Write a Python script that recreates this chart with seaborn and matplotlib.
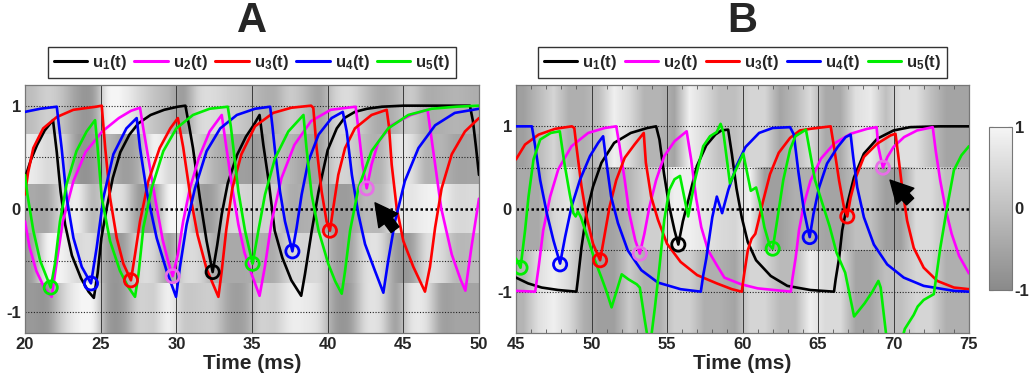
import numpy as np
import matplotlib
matplotlib.use('Agg')
import matplotlib.pyplot as plt
from matplotlib.colors import LinearSegmentedColormap, Normalize
from matplotlib.cm import ScalarMappable
from matplotlib.ticker import FixedLocator
import seaborn as sns

# ---------------- data ----------------
colors = ['black', '#ff00ff', '#ff0000', '#0000ff', '#00ee00']
labels = ['u$_1$(t)', 'u$_2$(t)', 'u$_3$(t)', 'u$_4$(t)', 'u$_5$(t)']

# panel A
A_u1_t = [20.0, 20.4, 20.8, 21.3, 21.85, 22.1, 22.35, 22.65, 23.1, 23.7, 24.2, 24.55, 24.8, 25.05, 25.4,
          25.8, 26.3, 26.9, 27.5, 28.3, 29.2, 30.1, 30.6, 30.85, 31.1, 31.55, 32.0, 32.4, 32.7, 33.0, 33.4,
          34.0, 34.6, 35.1, 35.5, 35.75, 36.1, 36.5, 37.0, 37.6, 38.25, 38.5, 38.95, 39.4, 40.0, 40.6, 41.1,
          41.8, 42.6, 43.6, 45.0, 47.0, 49.4, 49.6, 49.8, 50.0]
A_u1 = [0.30, 0.48, 0.62, 0.76, 0.86, 0.55, 0.17, -0.15, -0.45, -0.67, -0.80, -0.86, -0.62, -0.28, 0.01,
        0.30, 0.55, 0.72, 0.83, 0.91, 0.96, 0.99, 1.0, 0.80, 0.59, 0.11, -0.31, -0.61, -0.35, -0.05, 0.25,
        0.52, 0.70, 0.81, 0.91, 0.62, 0.27, -0.21, -0.47, -0.69, -0.84, -0.63, -0.21, 0.17, 0.57, 0.78, 0.88,
        0.94, 0.97, 0.99, 1.0, 1.0, 1.0, 0.85, 0.60, 0.33]

A_u2_t = [20.0, 20.3, 20.75, 21.3, 21.76, 22.05, 22.5, 23.2, 24.0, 25.1, 26.2, 27.0, 27.6, 27.85, 28.2,
          28.6, 29.1, 29.45, 29.76, 30.1, 30.45, 30.9, 31.5, 32.2, 33.0, 33.3, 33.7, 34.1, 34.5, 34.95, 35.5,
          35.85, 36.3, 36.95, 37.8, 38.9, 40.2, 41.85, 42.05, 42.3, 42.58, 42.9, 43.35, 44.2, 45.5, 46.6,
          46.95, 47.5, 48.2, 48.8, 49.1, 49.5, 50.0]
A_u2 = [-0.12, -0.37, -0.60, -0.77, -0.85, -0.56, -0.12, 0.27, 0.55, 0.75, 0.88, 0.95, 0.98, 0.75, 0.45,
        0.10, -0.30, -0.50, -0.65, -0.44, -0.12, 0.20, 0.50, 0.75, 0.91, 0.60, 0.20, -0.15, -0.42, -0.62, -0.84,
        -0.56, -0.12, 0.30, 0.62, 0.85, 0.96, 0.99, 0.75, 0.43, 0.20, 0.43, 0.65, 0.81, 0.91, 0.96,
        0.59, 0.01, -0.44, -0.69, -0.79, -0.37, 0.10]

A_u3_t = [20.0, 20.2, 20.55, 21.2, 22.1, 23.2, 24.7, 25.07, 25.3, 25.62, 26.06, 26.5, 27.0, 27.27, 27.6,
          28.15, 28.9, 29.6, 30.1, 30.45, 30.9, 31.4, 32.0, 32.78, 33.0, 33.3, 33.7, 34.3, 35.2, 36.4, 37.6,
          38.9, 39.05, 39.27, 39.6, 39.93, 40.15, 40.37, 40.7, 41.15, 41.8, 42.9, 43.9, 44.05, 44.23, 44.56,
          45.0, 45.66, 46.43, 46.76, 47.1, 47.53, 48.2, 49.07, 50.0]
A_u3 = [0.14, 0.35, 0.59, 0.78, 0.89, 0.96, 0.99, 1.0, 0.59, 0.11, -0.28, -0.53, -0.69, -0.44, -0.12,
        0.27, 0.59, 0.78, 0.88, 0.60, 0.15, -0.25, -0.58, -0.85, -0.60, -0.20, 0.20, 0.53, 0.80, 0.93, 0.98,
        1.0, 0.98, 0.59, 0.17, -0.12, -0.21, 0.01, 0.33, 0.59, 0.78, 0.91, 0.96, 0.80, 0.43, 0.01,
        -0.31, -0.56, -0.80, -0.56, -0.18, 0.20, 0.53, 0.75, 0.88]

A_u4_t = [20.0, 21.0, 22.1, 22.25, 22.42, 22.75, 23.2, 23.75, 24.36, 24.74, 25.18, 25.84, 26.7, 27.38, 27.6,
          28.04, 28.7, 29.36, 29.98, 30.24, 30.68, 31.23, 32.0, 32.9, 34.0, 35.2, 36.2, 36.35, 36.5, 36.85,
          37.18, 37.67, 37.95, 38.28, 38.72, 39.4, 40.26, 41.0, 41.26, 41.6, 42.03, 42.47, 43.13, 43.68, 44.0,
          44.45, 45.1, 46.0, 47.1, 48.4, 50.0]
A_u4 = [0.94, 0.97, 0.99, 0.80, 0.59, 0.11, -0.28, -0.56, -0.72, -0.37, 0.11, 0.53, 0.78, 0.88, 0.59,
        0.17, -0.28, -0.60, -0.85, -0.56, -0.15, 0.20, 0.56, 0.78, 0.91, 0.97, 0.99, 0.80, 0.59, 0.17,
        -0.12, -0.41, -0.18, 0.14, 0.46, 0.72, 0.88, 0.94, 0.75, 0.33, -0.05, -0.34, -0.60, -0.81, -0.50,
        -0.12, 0.27, 0.59, 0.81, 0.93, 0.97]

A_u5_t = [20.0, 20.15, 20.55, 21.0, 21.43, 21.7, 21.98, 22.31, 22.75, 23.4, 24.07, 24.63, 24.8, 25.07, 25.62,
          26.28, 26.8, 27.27, 27.5, 27.82, 28.37, 29.14, 30.0, 31.1, 32.2, 33.4, 33.6, 33.77, 34.1, 34.54,
          35.04, 35.42, 35.86, 36.52, 37.4, 38.4, 38.6, 38.94, 39.4, 40.04, 40.5, 40.93, 41.15, 41.48, 42.03,
          42.9, 44.0, 45.33, 46.87, 48.5, 50.0]
A_u5 = [0.33, 0.15, -0.21, -0.50, -0.66, -0.76, -0.53, -0.12, 0.24, 0.56, 0.75, 0.86, 0.59, 0.11, -0.31,
        -0.60, -0.75, -0.85, -0.63, -0.18, 0.20, 0.56, 0.78, 0.91, 0.97, 0.99, 0.80, 0.59, 0.17, -0.21,
        -0.53, -0.21, 0.14, 0.49, 0.75, 0.91, 0.59, 0.14, -0.21, -0.53, -0.70, -0.82, -0.60, -0.21, 0.20,
        0.56, 0.78, 0.91, 0.97, 0.99, 1.0]

A_circ_t = [21.7, 24.36, 27.0, 29.76, 32.4, 35.04, 37.67, 40.15, 42.58]
A_circ_u = [-0.76, -0.72, -0.69, -0.65, -0.61, -0.53, -0.41, -0.21, 0.20]
A_circ_id = [4, 3, 2, 1, 0, 4, 3, 2, 1]

# panel B
B_u1_t = [45.0, 45.8, 46.7, 47.8, 49.0, 49.1, 49.34, 49.67, 50.1, 50.66, 51.5, 52.6, 53.7, 54.28, 54.5,
          54.8, 55.15, 55.5, 55.75, 56.05, 56.5, 56.98, 57.6, 58.2, 58.6, 59.05, 59.3, 59.6, 59.95, 60.35,
          60.9, 61.87, 62.97, 64.5, 66.06, 66.17, 66.4, 66.6, 66.94, 67.38, 68.04, 68.92, 70.0, 71.1, 73.0, 75.0]
B_u1 = [-0.83, -0.90, -0.95, -0.98, -1.0, -0.85, -0.46, -0.05, 0.27, 0.56, 0.80, 0.92, 0.98, 1.0, 0.84,
        0.43, 0.03, -0.26, -0.43, -0.15, 0.17, 0.52, 0.77, 0.90, 0.95, 0.96, 0.66, 0.25, -0.10, -0.40,
        -0.62, -0.81, -0.93, -0.98, -1.0, -0.85, -0.59, -0.26, 0.06, 0.38, 0.67, 0.85, 0.95, 0.99, 1.0, 1.0]

B_u2_t = [45.0, 46.27, 46.5, 46.8, 47.26, 47.8, 48.68, 49.78, 50.88, 51.64, 51.86, 52.2, 52.5, 52.9, 53.2,
          53.5, 53.84, 54.28, 54.82, 55.5, 56.3, 56.6, 56.93, 57.27, 57.72, 58.3, 58.8, 59.9, 61.0, 62.1,
          63.2, 63.3, 63.52, 63.74, 64.07, 64.5, 65.2, 66.06, 67.16, 68.26, 68.88, 69.0, 69.15, 69.3, 69.6,
          70.0, 70.7, 71.56, 72.6, 72.8, 73.1, 73.45, 73.85, 74.35, 75.0]
B_u2 = [-0.99, -1.0, -0.70, -0.26, 0.15, 0.48, 0.76, 0.92, 0.98, 1.0, 0.76, 0.35, -0.05, -0.38, -0.54,
        -0.30, 0.03, 0.35, 0.64, 0.82, 0.94, 0.60, 0.13, -0.22, -0.50, -0.68, -0.83, -0.91, -0.96, -0.98,
        -1.0, -0.85, -0.59, -0.26, 0.06, 0.34, 0.61, 0.79, 0.91, 0.97, 0.99, 0.75, 0.62, 0.50, 0.63,
        0.75, 0.87, 0.95, 0.99, 0.70, 0.34, 0.0, -0.30, -0.57, -0.78]

B_u3_t = [45.0, 45.6, 46.5, 47.6, 48.7, 48.86, 49.0, 49.34, 49.67, 50.1, 50.57, 50.88, 51.2, 51.64, 52.2,
          52.85, 53.46, 53.6, 53.95, 54.4, 55.0, 55.9, 57.0, 58.3, 59.3, 59.95, 60.1, 60.35, 60.6, 60.85,
          61.05, 61.37, 61.82, 62.4, 63.15, 63.8, 64.5, 65.4, 65.84, 66.06, 66.4, 66.72, 66.94, 67.16, 67.5,
          68.04, 68.92, 69.8, 70.13, 70.3, 70.57, 70.9, 71.34, 72.0, 72.9, 74.0, 75.0]
B_u3 = [0.60, 0.78, 0.90, 0.97, 1.0, 0.98, 0.76, 0.27, -0.09, -0.42, -0.62, -0.30, 0.03, 0.35, 0.62,
        0.78, 0.92, 0.56, 0.15, -0.13, -0.42, -0.64, -0.80, -0.90, -0.97, -1.0, -0.80, -0.50, -0.36, -0.30,
        -0.15, 0.10, 0.42, 0.68, 0.86, 0.95, 0.97, 0.99, 1.0, 0.75, 0.34, 0.02, -0.09, 0.14, 0.38,
        0.63, 0.79, 0.89, 0.91, 0.67, 0.26, -0.14, -0.47, -0.71, -0.87, -0.95, -0.97]

B_u4_t = [45.0, 46.05, 46.27, 46.6, 47.04, 47.48, 47.92, 48.25, 48.68, 49.23, 49.9, 50.44, 50.77, 50.99, 51.3,
          51.75, 52.4, 53.3, 54.4, 55.9, 57.24, 57.4, 57.6, 58.0, 58.3, 58.65, 59.06, 59.6, 60.2, 61.1,
          62.0, 63.15, 63.4, 63.7, 64.07, 64.3, 64.45, 64.7, 65.07, 65.6, 66.3, 66.83, 67.16, 67.33, 67.6,
          68.04, 68.7, 69.58, 70.68, 72.0, 74.0, 75.0]
B_u4 = [1.0, 1.0, 0.76, 0.35, -0.05, -0.38, -0.66, -0.34, 0.03, 0.35, 0.64, 0.80, 0.88, 0.56, 0.15,
        -0.17, -0.50, -0.74, -0.89, -0.97, -1.0, -0.80, -0.60, -0.10, 0.15, -0.05, 0.23, 0.52, 0.75, 0.92,
        0.98, 0.99, 0.90, 0.45, -0.02, -0.22, -0.34, -0.06, 0.26, 0.55, 0.75, 0.87, 0.90, 0.63, 0.26,
        -0.10, -0.43, -0.67, -0.83, -0.93, -0.99, -1.0]

B_u5_t = [45.0, 45.3, 45.6, 45.83, 46.16, 46.6, 47.3, 47.9, 48.2, 48.55, 48.8, 48.95, 49.1, 49.3, 49.8,
          50.22, 50.66, 51.0, 51.33, 52.0, 52.44, 52.99, 53.2, 53.54, 53.85, 54.2, 54.5, 54.82, 55.15, 55.5,
          55.86, 56.4, 56.85, 57.4, 57.85, 58.29, 58.55, 58.73, 59.17, 59.5, 60.05, 60.55, 60.9, 61.15, 61.45,
          61.8, 62.0, 62.26, 62.7, 63.15, 63.5, 64.2, 64.8, 65.77, 66.23, 66.8, 67.39, 68.09, 68.6, 69.0,
          69.15, 69.5, 70.1, 70.75, 71.34, 71.6, 72.0, 72.67, 73.1, 73.55, 74.0, 74.5, 75.0]
B_u5 = [-0.60, -0.71, -0.26, 0.15, 0.60, 0.84, 0.92, 0.94, 0.56, 0.19, -0.05, -0.09, -0.03, -0.10, -0.38,
        -0.62, -0.83, -1.0, -1.19, -0.79, -0.85, -0.91, -0.95, -1.36, -1.70, -1.19, -0.70, -0.13, 0.23, 0.36,
        0.40, -0.09, 0.35, 0.76, 0.88, 0.93, 1.03, 0.93, 0.31, 0.45, 0.67, 0.22, 0.26, 0.08, -0.22,
        -0.44, -0.48, -0.18, 0.35, 0.72, 0.88, 0.96, 0.35, -0.21, -0.53, -0.77, -1.30, -1.14, -1.0, -0.87,
        -0.95, -1.50, -1.90, -1.45, -1.28, -1.18, -1.10, -1.03, -0.47, 0.02, 0.47, 0.65, 0.76]

B_circ_t = [45.3, 47.92, 50.57, 53.2, 55.75, 62.0, 64.45, 66.94, 69.3]
B_circ_u = [-0.71, -0.67, -0.62, -0.54, -0.43, -0.48, -0.34, -0.09, 0.50]
B_circ_id = [4, 3, 2, 1, 0, 4, 3, 2, 1]

# gray background rows (top row first), one value per ms
A_bg = [
    [0.0, 0.3, 0.0, -0.6, -0.6, 0.9, 0.9, 0.5, 0.1, -0.2, -0.6, 0.4, 0.5, 0.3, 0.1,
     -0.2, -0.3, 0.2, -0.1, -0.5, 0.3, 0.5, 0.0, -0.4, -0.2, 0.2, -0.3, -0.3, -0.2, -0.3],
    [0.8, 0.5, 0.4, -0.7, -0.7, -0.2, -0.6, -0.3, 0.9, 0.5, 0.4, 0.3, -0.2, -0.5, -0.6,
     -0.6, -0.1, -0.2, -0.5, -0.5, 0.3, 0.3, -0.1, -0.2, 0.6, 0.6, -0.2, -0.2, -0.5, -0.5],
    [-0.4, -0.4, 0.5, 0.8, -0.1, 0.5, 0.5, -0.6, -0.6, 0.9, 0.9, -0.5, -0.5, 0.4, 0.4,
     0.3, 0.3, -0.3, -0.3, -0.3, -0.6, -0.6, -0.1, -0.1, 0.7, 0.7, 0.9, 0.9, 0.5, 0.5],
    [-0.5, 0.9, 0.9, 0.5, 0.5, -0.6, -0.6, 0.4, 0.4, -0.5, 0.4, 0.4, -0.3, -0.4, -0.4,
     -0.3, -0.3, 0.4, 0.4, 0.4, -0.5, -0.5, 0.5, 0.5, -0.6, -0.6, 0.5, 0.5, -0.1, -0.1],
    [-0.7, -0.7, 0.3, 0.9, 0.9, -0.6, -0.6, 0.3, 0.3, 0.9, 0.2, 0.2, 0.2, -0.5, -0.5,
     0.3, 0.3, 0.8, 0.8, 0.5, -0.6, -0.6, 0.5, 0.5, -0.5, 0.6, 0.6, -0.5, -0.5, -0.5],
]
B_bg = [
    [-0.6, -0.1, 0.4, -0.3, -0.3, 0.0, 0.9, 0.5, -0.2, -0.2, -0.5, 0.9, 0.5, 0.0, 0.0,
     0.4, 0.4, -0.5, -0.1, 0.5, -0.4, -0.4, 0.6, 0.8, 0.0, 0.6, 0.6, 0.0, -0.5, -0.5],
    [-0.4, -0.4, 0.4, 0.7, -0.3, -0.6, -0.5, -0.2, 0.3, 0.3, 0.9, 0.9, 0.7, 0.5, 0.4,
     0.9, -0.6, -0.6, -0.3, -0.3, -0.5, -0.5, 0.0, 0.0, -0.6, -0.6, 0.5, 0.5, 0.0, 0.0],
    [-0.2, 0.6, 0.9, 0.5, -0.3, -0.6, -0.6, 0.2, -0.3, -0.3, 0.3, 0.3, -0.3, -0.3, -0.5,
     0.4, 0.4, -0.1, -0.1, 0.9, 0.5, 0.5, -0.5, -0.5, 0.0, 0.0, 0.4, 0.4, -0.3, -0.3],
]

A_arrow = [(43.13, 0.06), (44.45, -0.20)]
B_arrow = [(69.77, 0.35), (71.1, 0.09)]

# ---------------- style ----------------
sns.set_style('white')
plt.rcParams['font.family'] = ['Liberation Sans', 'DejaVu Sans']
plt.rcParams['font.weight'] = 'bold'
plt.rcParams['mathtext.fontset'] = 'custom'
plt.rcParams['mathtext.rm'] = 'Liberation Sans:bold'
plt.rcParams['mathtext.bf'] = 'Liberation Sans:bold'
plt.rcParams['mathtext.default'] = 'bf'

gray = LinearSegmentedColormap.from_list('bg', ['#8a8a8a', '#f5f5f5'])
circ_colors = ['black', '#e86ee8', '#ff0000', '#0000ff', '#00ee00']

fig = plt.figure(figsize=(10.29, 3.81), dpi=100)
axA = fig.add_axes([25 / 1029, 48 / 381, 454 / 1029, 248 / 381])
axB = fig.add_axes([516 / 1029, 48 / 381, 453 / 1029, 248 / 381])


def draw_panel(ax, curves, circ, bg, t0, t1, ylim, arrow, minor, interp):
    edges = np.linspace(ylim[1], ylim[0], len(bg) + 1)
    for i, row in enumerate(bg):
        ax.imshow(np.array(row)[None, :], extent=(t0, t1, edges[i + 1], edges[i]), aspect='auto',
                  cmap=gray, vmin=-1, vmax=1, interpolation=interp, zorder=0)

    for v in range(t0 + 5, t1, 5):
        ax.axvline(v, color='#3a3a3a', lw=0.7, zorder=1)
    for y in [-1, -0.5, 0.5, 1]:
        ax.axhline(y, color='#222222', lw=0.8, ls=(0, (1, 1.5)), zorder=1)
    ax.axhline(0, color='black', lw=1.8, ls=(0, (1, 1)), zorder=2)

    for (t, u), c, lab in zip(curves, colors, labels):
        sns.lineplot(x=t, y=u, color=c, lw=1.9, label=lab, ax=ax, estimator=None, sort=False, zorder=3)

    ct, cu, cid = circ
    for t, u, k in zip(ct, cu, cid):
        ax.scatter([t], [u], s=90, facecolors='none', edgecolors=circ_colors[k], linewidths=2.0, zorder=4)

    ax.annotate('', xy=arrow[0], xytext=arrow[1],
                arrowprops=dict(arrowstyle='simple,head_length=0.8,head_width=0.85,tail_width=0.35',
                                color='black', mutation_scale=20, shrinkA=0, shrinkB=0), zorder=5)

    ax.set_xlim(t0, t1)
    ax.set_ylim(*ylim)
    ax.set_xticks(range(t0, t1 + 1, 5))
    ax.set_yticks([-1, 0, 1])
    ax.set_yticklabels(['-1', '0', '1'])
    ax.tick_params(axis='both', which='major', length=0, labelsize=12, pad=3)
    if minor:
        ax.xaxis.set_minor_locator(FixedLocator(range(t0, t1 + 1)))
        ax.tick_params(axis='x', which='minor', direction='in', length=3, color='#555555',
                       top=True, bottom=True)
    for s in ax.spines.values():
        s.set_color('#777777')
        s.set_linewidth(0.9)
    ax.set_xlabel('Time (ms)', fontsize=15, fontweight='bold', labelpad=1)
    ax.set_ylabel('')

    leg = ax.legend(loc='lower center', bbox_to_anchor=(0.5, 1.028), ncol=5, frameon=True,
                    fancybox=False, edgecolor='black', fontsize=12, handlelength=2.0,
                    handletextpad=0.3, columnspacing=0.45, borderpad=0.35, borderaxespad=0)
    leg.get_frame().set_linewidth(1.0)
    for line in leg.get_lines():
        line.set_linewidth(2.2)


draw_panel(axA, [(A_u1_t, A_u1), (A_u2_t, A_u2), (A_u3_t, A_u3), (A_u4_t, A_u4), (A_u5_t, A_u5)],
           (A_circ_t, A_circ_u, A_circ_id), A_bg, 20, 50, (-1.2, 1.2), A_arrow, False, 'spline16')
draw_panel(axB, [(B_u1_t, B_u1), (B_u2_t, B_u2), (B_u3_t, B_u3), (B_u4_t, B_u4), (B_u5_t, B_u5)],
           (B_circ_t, B_circ_u, B_circ_id), B_bg, 45, 75, (-1.5, 1.5), B_arrow, True, 'bilinear')

fig.text(252 / 1029, 1 - 21 / 381, 'A', fontsize=30, fontweight='bold', ha='center', va='center')
fig.text(742 / 1029, 1 - 21 / 381, 'B', fontsize=30, fontweight='bold', ha='center', va='center')

# colour bar
cax = fig.add_axes([989 / 1029, 91 / 381, 23 / 1029, 163 / 381])
cb = fig.colorbar(ScalarMappable(norm=Normalize(-1, 1), cmap=gray), cax=cax, ticks=[-1, 0, 1])
cb.ax.yaxis.set_minor_locator(FixedLocator([-0.5, 0.5]))
cb.ax.tick_params(which='both', direction='in', left=True, right=True, length=3, color='#555555',
                  labelsize=12, pad=2)
cb.ax.set_yticklabels(['-1', '0', '1'])
cb.outline.set_edgecolor('#777777')

fig.savefig('out.png', dpi=100)
